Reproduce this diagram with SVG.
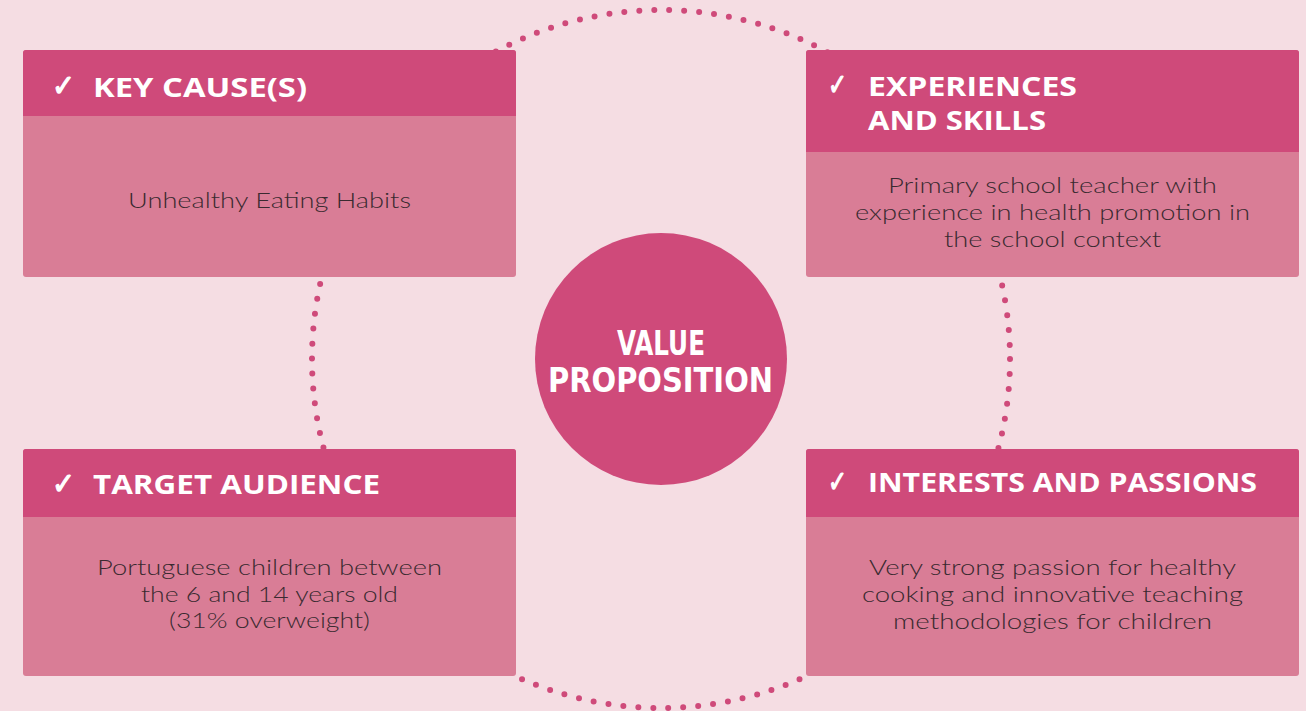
<svg xmlns="http://www.w3.org/2000/svg" width="1306" height="711" viewBox="0 0 1306 711">
<style>
.bg{fill:#f5dde3}
.body{fill:#d97d96}
.head{fill:#cf4a7a}
.ring{fill:none;stroke:#cf4a7a;stroke-width:6;stroke-linecap:round;stroke-dasharray:0 15.02}
.ht{font-family:"Open Sans","Liberation Sans",sans-serif;font-weight:700;font-size:27px;fill:#ffffff}
.ck{font-family:"DejaVu Sans",sans-serif;font-size:30px;fill:#ffffff;font-weight:700;stroke:#ffffff;stroke-width:1.2}
.bt{font-family:Lato,"Open Sans","Liberation Sans",sans-serif;font-weight:300;font-size:22px;fill:#3a2a30;text-anchor:middle}
.vp{font-family:"Liberation Sans Narrow","DejaVu Sans Condensed","Liberation Sans",sans-serif;font-size:34px;fill:#ffffff;font-weight:700}
</style>
<rect class="bg" x="0" y="0" width="1306" height="711"/>
<g id="connectors">
<circle class="ring" cx="661" cy="359" r="349"/>
</g>
<g id="key-causes">
<rect class="body" x="23" y="50" width="493" height="227" rx="3"/>
<path class="head" d="M23 116 V53 a3 3 0 0 1 3 -3 H513 a3 3 0 0 1 3 3 V116 Z"/>
<text class="ck" x="52" y="96" textLength="23" lengthAdjust="spacingAndGlyphs">✓</text>
<text class="ht" x="93" y="97" textLength="214" lengthAdjust="spacingAndGlyphs">KEY CAUSE(S)</text>
<text class="bt" x="269.5" y="208" textLength="283" lengthAdjust="spacingAndGlyphs">Unhealthy Eating Habits</text>
</g>
<g id="experiences-skills">
<rect class="body" x="806" y="50" width="493" height="227" rx="3"/>
<path class="head" d="M806 152 V53 a3 3 0 0 1 3 -3 H1296 a3 3 0 0 1 3 3 V152 Z"/>
<text class="ck" x="828" y="95" textLength="19" lengthAdjust="spacingAndGlyphs">✓</text>
<text class="ht" x="868" y="96" textLength="209" lengthAdjust="spacingAndGlyphs">EXPERIENCES</text>
<text class="ht" x="868" y="130" textLength="178" lengthAdjust="spacingAndGlyphs">AND SKILLS</text>
<text class="bt" x="1052.5" y="193" textLength="329" lengthAdjust="spacingAndGlyphs">Primary school teacher with</text>
<text class="bt" x="1052.5" y="220" textLength="395" lengthAdjust="spacingAndGlyphs">experience in health promotion in</text>
<text class="bt" x="1052.5" y="247" textLength="217" lengthAdjust="spacingAndGlyphs">the school context</text>
</g>
<g id="value-proposition">
<circle cx="661" cy="359" r="126" fill="#cf4a7a"/>
<text class="vp" x="617" y="355" textLength="88" lengthAdjust="spacingAndGlyphs">VALUE</text>
<text class="vp" x="548" y="392" textLength="225" lengthAdjust="spacingAndGlyphs">PROPOSITION</text>
</g>
<g id="target-audience">
<rect class="body" x="23" y="449" width="493" height="227" rx="3"/>
<path class="head" d="M23 517 V452 a3 3 0 0 1 3 -3 H513 a3 3 0 0 1 3 3 V517 Z"/>
<text class="ck" x="52" y="494" textLength="23" lengthAdjust="spacingAndGlyphs">✓</text>
<text class="ht" x="93" y="494" textLength="287" lengthAdjust="spacingAndGlyphs">TARGET AUDIENCE</text>
<text class="bt" x="269.5" y="575" textLength="345" lengthAdjust="spacingAndGlyphs">Portuguese children between</text>
<text class="bt" x="269.5" y="602" textLength="257" lengthAdjust="spacingAndGlyphs">the 6 and 14 years old</text>
<text class="bt" x="269.5" y="628" textLength="201" lengthAdjust="spacingAndGlyphs">(31% overweight)</text>
</g>
<g id="interests-passions">
<rect class="body" x="806" y="449" width="493" height="227" rx="3"/>
<path class="head" d="M806 517 V452 a3 3 0 0 1 3 -3 H1296 a3 3 0 0 1 3 3 V517 Z"/>
<text class="ck" x="828" y="492" textLength="19" lengthAdjust="spacingAndGlyphs">✓</text>
<text class="ht" x="868" y="492" textLength="389" lengthAdjust="spacingAndGlyphs">INTERESTS AND PASSIONS</text>
<text class="bt" x="1052.5" y="575" textLength="367" lengthAdjust="spacingAndGlyphs">Very strong passion for healthy</text>
<text class="bt" x="1052.5" y="602" textLength="381" lengthAdjust="spacingAndGlyphs">cooking and innovative teaching</text>
<text class="bt" x="1052.5" y="629" textLength="319" lengthAdjust="spacingAndGlyphs">methodologies for children</text>
</g>
</svg>
